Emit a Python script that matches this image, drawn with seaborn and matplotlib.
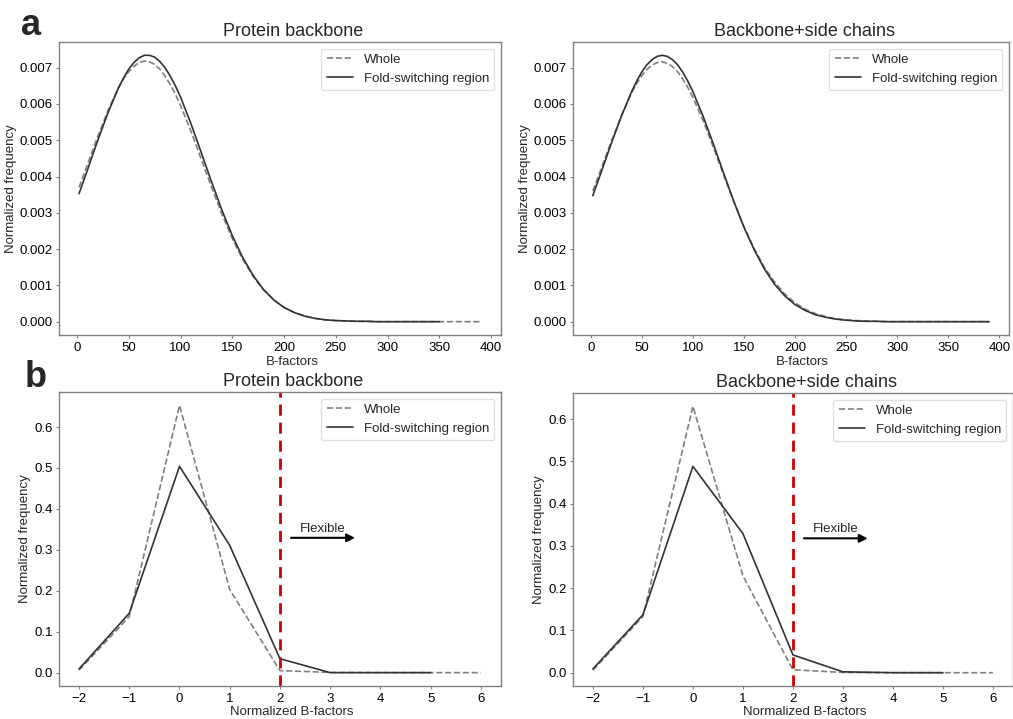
import numpy as np
import pandas as pd
import matplotlib
matplotlib.use('Agg')
import matplotlib.pyplot as plt
import seaborn as sns

# B-factor distributions
bf_x = [2, 10, 20, 30, 40, 45, 50, 55, 60, 65, 70, 75, 80, 85, 90, 95, 100,
        110, 120, 130, 140, 150, 160, 170, 180, 190, 200, 210, 220, 230, 240, 250,
        260, 270, 280, 290, 300, 310, 320, 330, 340, 350, 360, 370, 380, 390]

bb_whole = [0.00370, 0.00432, 0.00510, 0.00582, 0.00644, 0.00669, 0.00689, 0.00704, 0.00714, 0.00718,
            0.00716, 0.00709, 0.00696, 0.00677, 0.00654, 0.00627, 0.00596,
            0.00525, 0.00448, 0.00370, 0.00296, 0.00229, 0.00172, 0.00125, 0.00088, 0.00060,
            0.00039, 0.00025, 0.00016, 0.00009, 0.00005, 0.00003, 0.00002, 0.00001, 0.00001, 0.0,
            0.0, 0.0, 0.0, 0.0, 0.0, 0.0, 0.0, 0.0, 0.0, 0.0]
bb_fold = [0.00353, 0.00417, 0.00499, 0.00576, 0.00644, 0.00672, 0.00696, 0.00714, 0.00727, 0.00734,
           0.00734, 0.00729, 0.00717, 0.00700, 0.00677, 0.00650, 0.00619,
           0.00546, 0.00466, 0.00385, 0.00307, 0.00237, 0.00177, 0.00128, 0.00089, 0.00060,
           0.00039, 0.00025, 0.00015, 0.00009, 0.00005, 0.00003, 0.00002, 0.00001, 0.00001, 0.0,
           0.0, 0.0, 0.0, 0.0, 0.0, 0.0]

sc_whole = [0.00360, 0.00420, 0.00496, 0.00567, 0.00630, 0.00656, 0.00678, 0.00695, 0.00707, 0.00714,
            0.00716, 0.00712, 0.00703, 0.00689, 0.00669, 0.00646, 0.00618,
            0.00554, 0.00481, 0.00405, 0.00331, 0.00262, 0.00202, 0.00150, 0.00109, 0.00076,
            0.00052, 0.00034, 0.00022, 0.00014, 0.00008, 0.00005, 0.00003, 0.00002, 0.00001, 0.0,
            0.0, 0.0, 0.0, 0.0, 0.0, 0.0, 0.0, 0.0, 0.0, 0.0]
sc_fold = [0.00347, 0.00410, 0.00490, 0.00566, 0.00634, 0.00663, 0.00688, 0.00708, 0.00722, 0.00731,
           0.00734, 0.00731, 0.00722, 0.00708, 0.00688, 0.00663, 0.00634,
           0.00566, 0.00490, 0.00410, 0.00332, 0.00260, 0.00198, 0.00145, 0.00103, 0.00071,
           0.00047, 0.00031, 0.00019, 0.00012, 0.00007, 0.00004, 0.00002, 0.00001, 0.00001, 0.0,
           0.0, 0.0, 0.0, 0.0, 0.0, 0.0, 0.0, 0.0, 0.0, 0.0]

# Normalized B-factor distributions
nb_x = [-2, -1, 0, 1, 2, 3, 4, 5, 6]
nbb_whole = [0.006, 0.137, 0.653, 0.203, 0.005, 0.0005, 0.0, 0.0, 0.0]
nbb_fold = [0.009, 0.145, 0.504, 0.311, 0.034, 0.0, 0.0, 0.0]
nsc_whole = [0.006, 0.133, 0.630, 0.229, 0.007, 0.0005, 0.0, 0.0, 0.0]
nsc_fold = [0.009, 0.137, 0.488, 0.329, 0.042, 0.002, 0.0, 0.0]

titles = ['Protein backbone', 'Backbone+side chains']
cutoff = 2

sns.set_style('ticks', {'axes.edgecolor': '0.5', 'xtick.color': '0.5', 'ytick.color': '0.5'})
plt.rcParams['font.family'] = ['Liberation Sans', 'DejaVu Sans']
plt.rcParams['xtick.labelcolor'] = 'black'
plt.rcParams['ytick.labelcolor'] = 'black'
plt.rcParams['xtick.major.size'] = 2.5
plt.rcParams['ytick.major.size'] = 2.5
plt.rcParams['xtick.major.pad'] = 2.5
plt.rcParams['ytick.major.pad'] = 2.0
plt.rcParams['axes.linewidth'] = 1.0

fig = plt.figure(figsize=(10.13, 7.19), dpi=100)
ax_a1 = fig.add_axes([0.0582, 0.5341, 0.4363, 0.4075])
ax_a2 = fig.add_axes([0.5656, 0.5341, 0.4304, 0.4075])
ax_b1 = fig.add_axes([0.0582, 0.0459, 0.4363, 0.4089])
ax_b2 = fig.add_axes([0.5656, 0.0459, 0.4343, 0.4075])

whole_kw = dict(color='0.5', linestyle='--', linewidth=1.2)
fold_kw = dict(color='#333333', linewidth=1.2)

# panel a
for ax, w, f in [(ax_a1, bb_whole, bb_fold), (ax_a2, sc_whole, sc_fold)]:
    sns.lineplot(x=bf_x, y=w, ax=ax, label='Whole', **whole_kw)
    sns.lineplot(x=bf_x[:len(f)], y=f, ax=ax, label='Fold-switching region', **fold_kw)
    ax.set_xticks(range(0, 401, 50))
    ax.set_yticks(np.arange(0, 0.0071, 0.001))
    ax.yaxis.set_major_formatter(matplotlib.ticker.FormatStrFormatter('%.3f'))
    ax.set_xlabel('B-factors', fontsize=9.5, x=0.527, labelpad=1.5)

# panel b
for ax, w, f in [(ax_b1, nbb_whole, nbb_fold), (ax_b2, nsc_whole, nsc_fold)]:
    sns.lineplot(x=nb_x, y=w, ax=ax, label='Whole', **whole_kw)
    sns.lineplot(x=nb_x[:len(f)], y=f, ax=ax, label='Fold-switching region', **fold_kw)
    ax.axvline(cutoff, color='#cc0000', linewidth=2, linestyle=(0, (4, 2.5)))
    ax.set_xticks(nb_x)
    ax.set_yticks(np.arange(0, 0.61, 0.1))
    ax.yaxis.set_major_formatter(matplotlib.ticker.FormatStrFormatter('%.1f'))
    ax.annotate('', xy=(0.67, 0.504), xytext=(0.525, 0.504), xycoords='axes fraction',
                arrowprops=dict(arrowstyle='-|>', color='black', lw=1.5, mutation_scale=12,
                                shrinkA=0, shrinkB=0))
    ax.text(0.545, 0.515, 'Flexible', transform=ax.transAxes, fontsize=9.5, va='bottom')
    ax.set_xlabel('Normalized B-factors', fontsize=9.5, x=0.527, labelpad=1)

for ax, t in zip([ax_a1, ax_a2, ax_b1, ax_b2], titles * 2):
    ax.set_title(t, fontsize=13, x=0.53, pad=4)
    ax.set_ylabel('Normalized frequency', fontsize=9.5, labelpad=2)
    ax.tick_params(labelsize=9.5)
    ax.legend(loc='upper right', fontsize=9.5, handlelength=2.0, edgecolor='0.85')

fig.text(0.021, 1 - 35 / 719, 'a', fontsize=26, fontweight='bold', va='baseline')
fig.text(0.024, 1 - 387 / 719, 'b', fontsize=26, fontweight='bold', va='baseline')

fig.savefig('out.png', dpi=100)
